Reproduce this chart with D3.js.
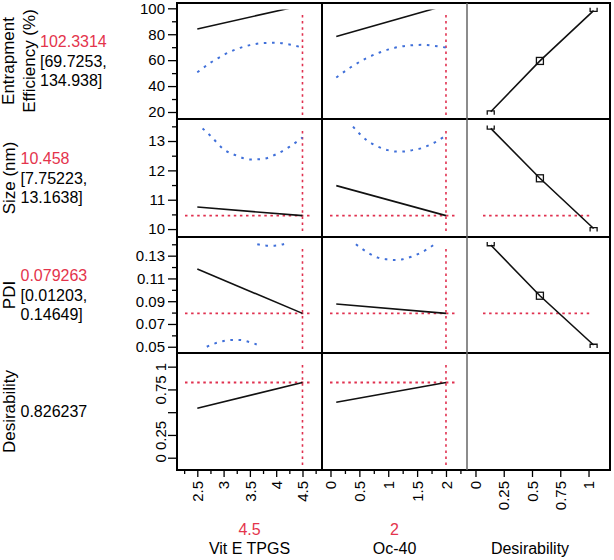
<!DOCTYPE html>
<html><head><meta charset="utf-8">
<script src="https://cdn.jsdelivr.net/npm/d3@7"></script>
<style>
body{margin:0;background:#fff;}
svg{display:block;font-family:"Liberation Sans",Arial,sans-serif;}
</style></head><body>
<svg id="c" width="614" height="560"></svg>
<script>
// ---------------- DATA ----------------
const factorNames = ["Vit E TPGS", "Oc-40"];
const factorCurrent = [4.5, 2];
const factorCurrentLabels = ["4.5", "2"];
const responseTitles = [["Entrapment", "Efficiency (%)"], ["Size (nm)"], ["PDI"], ["Desirability"]];
const predictedLabels = ["102.3314", "10.458", "0.079263", "0.826237"];
const intervalLabels = [["[69.7253,", "134.938]"], ["[7.75223,", "13.1638]"], ["[0.01203,", "0.14649]"], []];
const predictedValues = [102.3314, 10.458, 0.079263, 0.826237];

// profile (prediction) traces
const vitEx = [2.5, 4.5];
const ocx = [0.1, 2];
const eeVitE = [84.1, 102.33];
const eeOc = [78.2, 102.33];
const sizeVitE = [10.75, 10.458];
const sizeOc = [11.48, 10.458];
const pdiVitE = [0.1183, 0.0793];
const pdiOc = [0.0875, 0.0793];
const desVitE = [0.543, 0.826];
const desOc = [0.609, 0.826];

// confidence bounds (visible parts)
const eeLowVitEx = [2.5, 2.75, 3.0, 3.25, 3.5, 3.75, 4.0, 4.25, 4.5];
const eeLowVitE = [50.6, 58.0, 64.0, 68.6, 71.6, 73.2, 73.4, 72.1, 69.7];
const eeLowOcx = [0.1, 0.35, 0.6, 0.85, 1.1, 1.35, 1.6, 1.85, 2.0];
const eeLowOc = [46.6, 54.5, 61.0, 65.9, 69.4, 71.3, 71.8, 70.7, 69.7];
const sizeHighVitEx = [2.6, 2.75, 3.0, 3.25, 3.5, 3.75, 4.0, 4.25, 4.5];
const sizeHighVitE = [13.43, 13.18, 12.72, 12.5, 12.37, 12.39, 12.55, 12.8, 13.12];
const sizeHighOcx = [0.39, 0.62, 0.82, 0.99, 1.14, 1.28, 1.42, 1.57, 1.71, 1.85, 1.97];
const sizeHighOc = [13.49, 13.04, 12.81, 12.69, 12.64, 12.64, 12.69, 12.75, 12.86, 13.0, 13.15];
const pdiHighVitEx = [3.64, 3.82, 3.97, 4.15];
const pdiHighVitE = [0.1400, 0.1388, 0.1388, 0.1403];
const pdiLowVitEx = [2.68, 2.84, 3.0, 3.15, 3.31, 3.47, 3.63];
const pdiLowVitE = [0.050, 0.053, 0.055, 0.0559, 0.0559, 0.0544, 0.052];
const pdiHighOcx = [0.44, 0.67, 0.82, 0.97, 1.11, 1.25, 1.40, 1.54, 1.68, 1.81];
const pdiHighOc = [0.140, 0.132, 0.1283, 0.1268, 0.1262, 0.1268, 0.1291, 0.132, 0.1359, 0.1403];

// desirability functions (x = desirability, y = response)
const desFnX = [0.135, 0.57, 1.045];
const desFnEE = [20.2, 59.4, 98.2];
const desFnSize = [13.43, 11.73, 10.02];
const desFnPDI = [0.1394, 0.0948, 0.0515];

// ticks
const vitETicks = [2.5, 3, 3.5, 4, 4.5];
const vitEMinor = [2.25, 2.75, 3.25, 3.75, 4.25, 4.75];
const ocTicks = [0, 0.5, 1, 1.5, 2];
const ocMinor = [0.25, 0.75, 1.25, 1.75, 2.25];
const desXTicks = [0, 0.25, 0.5, 0.75, 1];
const eeTicks = [20, 40, 60, 80, 100];
const eeMinor = [30, 50, 70, 90];
const sizeTicks = [10, 11, 12, 13];
const sizeMinor = [10.5, 11.5, 12.5, 13.5];
const pdiTicks = [0.05, 0.07, 0.09, 0.11, 0.13];
const pdiMinor = [0.06, 0.08, 0.10, 0.12, 0.14];
const desYTicks = [0, 0.25, 0.5, 0.75, 1];
const desYLabels = ["0", "0.25", "", "0.75", "1"];

// axis domains
const xDomains = [[2.114, 4.871], [-0.147, 2.364], [-0.075, 1.19]];
const yDomains = [[14.6, 104.1], [9.73, 13.75], [0.0445, 0.1464], [-0.135, 1.15]];

// ---------------- LAYOUT ----------------
const colL = [177, 322, 467], colR = [322, 467, 610];
const rowT = [3, 119, 237, 353], rowB = [119, 237, 353, 470];
const RED = "#e0304f", REDTXT = "#e4344c", BLUE = "#3f6fd9";
const svg = d3.select("#c");
const xs = xDomains.map((d, i) => d3.scaleLinear().domain(d).range([colL[i], colR[i]]));
const ys = yDomains.map((d, i) => d3.scaleLinear().domain(d).range([rowB[i], rowT[i]]));

const defs = svg.append("defs");
for (let r = 0; r < 4; r++) for (let c = 0; c < 3; c++) {
  defs.append("clipPath").attr("id", `cl${r}${c}`).append("rect")
    .attr("x", colL[c]).attr("y", rowT[r] + 6.5)
    .attr("width", colR[c] - colL[c]).attr("height", rowB[r] - rowT[r] - 13);
}

const profiles = [
  [[vitEx, eeVitE], [ocx, eeOc]],
  [[vitEx, sizeVitE], [ocx, sizeOc]],
  [[vitEx, pdiVitE], [ocx, pdiOc]],
  [[vitEx, desVitE], [ocx, desOc]]
];
const bounds = [
  {r: 0, c: 0, x: eeLowVitEx, y: eeLowVitE},
  {r: 0, c: 1, x: eeLowOcx, y: eeLowOc},
  {r: 1, c: 0, x: sizeHighVitEx, y: sizeHighVitE},
  {r: 1, c: 1, x: sizeHighOcx, y: sizeHighOc},
  {r: 2, c: 0, x: pdiHighVitEx, y: pdiHighVitE},
  {r: 2, c: 0, x: pdiLowVitEx, y: pdiLowVitE},
  {r: 2, c: 1, x: pdiHighOcx, y: pdiHighOc}
];
const desFns = [desFnEE, desFnSize, desFnPDI];

const plot = svg.append("g");

// red horizontal lines (current predicted values)
for (let r = 0; r < 4; r++) {
  for (let c = 0; c < 3; c++) {
    if (r === 3 && c === 2) continue;
    const y = ys[r](predictedValues[r]);
    const x1 = c === 2 ? colL[c] + 16 : colL[c] + 8;
    const x2 = c === 2 ? colR[c] - 18 : colR[c] - 12;
    plot.append("line").attr("clip-path", `url(#cl${r}${c})`)
      .attr("x1", x1).attr("x2", x2).attr("y1", y).attr("y2", y)
      .attr("stroke", RED).attr("stroke-width", 1.8).attr("stroke-dasharray", "2.5,3.6");
  }
}
// red vertical lines (current factor settings)
for (let c = 0; c < 2; c++) for (let r = 0; r < 4; r++) {
  const x = xs[c](factorCurrent[c]);
  plot.append("line").attr("x1", x).attr("x2", x)
    .attr("y1", rowT[r] + 12).attr("y2", rowB[r] - 3)
    .attr("stroke", RED).attr("stroke-width", 1.6).attr("stroke-dasharray", "2.5,3.6");
}
// confidence bounds
bounds.forEach(b => {
  const line = d3.line().x(d => xs[b.c](d[0])).y(d => ys[b.r](d[1])).curve(d3.curveMonotoneX);
  plot.append("path").attr("d", line(b.x.map((v, i) => [v, b.y[i]])))
    .attr("fill", "none").attr("stroke", BLUE).attr("stroke-width", 2)
    .attr("stroke-dasharray", "2.6,5.6");
});
// profile traces
profiles.forEach((row, r) => row.forEach((p, c) => {
  const line = d3.line().x(d => xs[c](d[0])).y(d => ys[r](d[1]));
  plot.append("path").attr("d", line(p[0].map((v, i) => [v, p[1][i]])))
    .attr("clip-path", `url(#cl${r}${c})`)
    .attr("fill", "none").attr("stroke", "#111").attr("stroke-width", 1.6);
}));
// desirability functions
desFns.forEach((vals, r) => {
  const pts = desFnX.map((v, i) => [xs[2](v), ys[r](vals[i])]);
  plot.append("path").attr("d", d3.line()(pts)).attr("fill", "none")
    .attr("stroke", "#111").attr("stroke-width", 1.6);
  const mid = pts[1];
  plot.append("rect").attr("x", mid[0] - 3.5).attr("y", mid[1] - 3.5)
    .attr("width", 7).attr("height", 7).attr("fill", "none").attr("stroke", "#111").attr("stroke-width", 1.3);
  [pts[0], pts[2]].forEach(p => {
    const up = p[1] < mid[1];
    const s = up ? 1 : -1;
    plot.append("path")
      .attr("d", `M${p[0] - 3.5},${p[1] - 3 * s} V${p[1] + 0.8 * s} H${p[0] + 3.5} V${p[1] - 3 * s}`)
      .attr("fill", "none").attr("stroke", "#111").attr("stroke-width", 1.3);
  });
});

// ---------------- FRAME ----------------
const frame = svg.append("g").attr("fill", "none");
frame.append("rect").attr("x", colL[0]).attr("y", rowT[0])
  .attr("width", colR[2] - colL[0]).attr("height", rowB[3] - rowT[0])
  .attr("stroke", "#000").attr("stroke-width", 2);
for (let r = 1; r < 4; r++) frame.append("line").attr("x1", colL[0]).attr("x2", colR[2])
  .attr("y1", rowT[r]).attr("y2", rowT[r]).attr("stroke", "#000").attr("stroke-width", 2);
frame.append("line").attr("x1", colL[1]).attr("x2", colL[1]).attr("y1", rowT[0]).attr("y2", rowB[3])
  .attr("stroke", "#000").attr("stroke-width", 2);
frame.append("line").attr("x1", colL[2]).attr("x2", colL[2]).attr("y1", rowT[0]).attr("y2", rowB[3])
  .attr("stroke", "#666").attr("stroke-width", 1.5);

// ---------------- AXES ----------------
function styleAxis(g) {
  g.select(".domain").remove();
  g.selectAll("line").attr("stroke", "#000").attr("stroke-width", 1.3);
  g.selectAll("text").attr("font-size", 15).attr("fill", "#000")
    .attr("font-family", "'Liberation Sans', Arial, sans-serif");
}
const yMajor = [eeTicks, sizeTicks, pdiTicks, desYTicks];
const yMinor = [eeMinor, sizeMinor, pdiMinor, []];
const yFmt = [d3.format("d"), d3.format("d"), d3.format(".2f"), (d) => desYLabels[desYTicks.indexOf(d)]];
for (let r = 0; r < 4; r++) {
  const gMin = svg.append("g").attr("transform", `translate(${colL[0]},0)`)
    .call(d3.axisLeft(ys[r]).tickValues(yMinor[r]).tickSize(5).tickFormat(""));
  styleAxis(gMin);
  const g = svg.append("g").attr("transform", `translate(${colL[0]},0)`)
    .call(d3.axisLeft(ys[r]).tickValues(yMajor[r]).tickSize(9).tickPadding(3).tickFormat(yFmt[r]));
  styleAxis(g);
  if (r === 3) {
    g.selectAll("text").attr("transform", "rotate(-90)").attr("x", 0).attr("y", -11)
      .attr("dy", 0).attr("text-anchor", "middle");
  }
}
const xMajor = [vitETicks, ocTicks, desXTicks];
const xMinor = [vitEMinor, ocMinor, []];
const xFmt = [d3.format(""), d3.format(""), d3.format("")];
for (let c = 0; c < 3; c++) {
  const gMin = svg.append("g").attr("transform", `translate(0,${rowB[3]})`)
    .call(d3.axisBottom(xs[c]).tickValues(xMinor[c]).tickSize(4).tickFormat(""));
  styleAxis(gMin);
  const g = svg.append("g").attr("transform", `translate(0,${rowB[3]})`)
    .call(d3.axisBottom(xs[c]).tickValues(xMajor[c]).tickSize(7).tickFormat(xFmt[c]));
  styleAxis(g);
  g.selectAll("text").attr("transform", "rotate(-90)").attr("x", -11).attr("y", 0)
    .attr("dy", "0.35em").attr("text-anchor", "end");
}

// ---------------- LABELS ----------------
const lab = svg.append("g").attr("font-family", "'Liberation Sans', Arial, sans-serif");
const rowC = rowT.map((t, i) => (t + rowB[i]) / 2);
// response titles (rotated)
responseTitles.forEach((lines, r) => {
  const xsPos = lines.length === 2 ? [13.5, 35] : [14.5];
  lines.forEach((t, i) => {
    lab.append("text").attr("transform", `translate(${xsPos[i]},${rowC[r]}) rotate(-90)`)
      .attr("text-anchor", "middle").attr("font-size", 17).attr("fill", "#000").text(t);
  });
});
// predicted values and intervals
const valX = [40, 20.5, 20.5, 20.5];
for (let r = 0; r < 4; r++) {
  const lines = [predictedLabels[r]].concat(intervalLabels[r]);
  const n = lines.length;
  lines.forEach((t, i) => {
    lab.append("text").attr("x", valX[r])
      .attr("y", rowC[r] + 5.5 + (i - (n - 1) / 2) * 19.7)
      .attr("font-size", 16)
      .attr("fill", (i === 0 && r < 3) ? REDTXT : "#000").text(t);
  });
}
// factor labels at bottom
const colC = [249.5, 394.5, 530];
factorNames.forEach((f, c) => {
  lab.append("text").attr("x", colC[c]).attr("y", 535).attr("text-anchor", "middle")
    .attr("font-size", 16).attr("fill", REDTXT).text(factorCurrentLabels[c]);
  lab.append("text").attr("x", colC[c]).attr("y", 554).attr("text-anchor", "middle")
    .attr("font-size", 16).attr("fill", "#000").text(f);
});
lab.append("text").attr("x", colC[2]).attr("y", 554).attr("text-anchor", "middle")
  .attr("font-size", 16).attr("fill", "#000").text("Desirability");
</script>
</body></html>
